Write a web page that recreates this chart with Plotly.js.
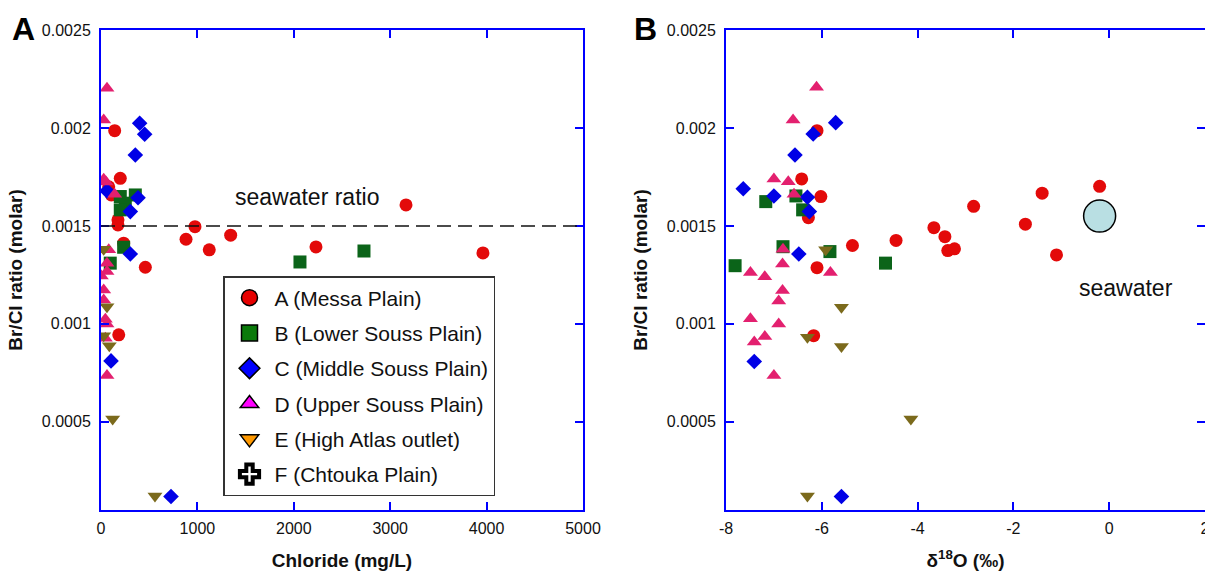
<!DOCTYPE html>
<html>
<head>
<meta charset="utf-8">
<script src="https://cdn.plot.ly/plotly-3.0.1.min.js"></script>
<style>
  html, body { margin: 0; padding: 0; background: #fff; }
  #chart { width: 1205px; height: 571px; }
</style>
</head>
<body>
<div id="chart"></div>
<script>
// Groundwater groups
const groupNames = [
  'A (Messa Plain)',
  'B (Lower Souss Plain)',
  'C (Middle Souss Plain)',
  'D (Upper Souss Plain)',
  'E (High Atlas outlet)',
  'F (Chtouka Plain)'
];

// ---- Panel A: chloride (mg/L) vs Br/Cl molar ratio ----
const clMessa   = [142, 200, 80, 107, 176, 176, 975, 882, 1123, 1345, 235, 460, 184, 3164, 2230, 3962];
const brclMessaA = [0.001986, 0.001743, 0.00170, 0.001658, 0.001531, 0.001505, 0.001496, 0.001432, 0.001378, 0.001453, 0.001412, 0.001289, 0.000944, 0.001607, 0.001393, 0.001362];

const clLower    = [200, 356, 252, 200, 235, 96, 2064, 2728];
const brclLowerA = [0.00165, 0.001658, 0.001616, 0.001582, 0.001391, 0.00131, 0.001316, 0.001372];

const clMiddle    = [401, 453, 356, 62, 384, 304, 304, 104, 726];
const brclMiddleA = [0.002024, 0.001968, 0.001862, 0.001679, 0.001644, 0.001573, 0.001357, 0.000811, 0.000119];

const clUpper    = [62, 28, 28, 52, 142, 80, 62, 3, 62, 28, 28, 45, 62, 45, 62];
const brclUpperA = [0.002203, 0.002041, 0.001738, 0.001724, 0.001662, 0.001378, 0.00131, 0.001245, 0.001267, 0.001173, 0.001122, 0.001024, 0.001, 0.000927, 0.000736];

const clAtlas    = [28, 62, 28, 86, 121, 560];
const brclAtlasA = [0.001381, 0.001088, 0.000939, 0.000888, 0.000515, 0.000122];

const seawaterRatioLine = 0.0015;

// ---- Panel B: δ18O (‰) vs Br/Cl molar ratio ----
const d18oMessa  = [-6.10, -6.42, -6.02, -6.28, -5.36, -6.10, -6.17, -4.45, -3.66, -3.43, -3.37, -3.23, -2.83, -1.75, -1.40, -1.10, -0.20];
const brclMessaB = [0.001986, 0.00174, 0.00165, 0.001542, 0.0014, 0.001287, 0.00094, 0.001426, 0.001491, 0.001445, 0.001374, 0.001383, 0.0016, 0.001509, 0.001667, 0.001352, 0.001702];

const d18oLower  = [-6.54, -7.17, -6.40, -6.81, -5.83, -7.81, -4.67];
const brclLowerB = [0.001653, 0.001624, 0.001582, 0.001394, 0.001369, 0.001297, 0.00131];

const d18oMiddle  = [-5.71, -6.18, -6.56, -7.64, -7.00, -6.30, -6.26, -6.48, -7.41, -5.59];
const brclMiddleB = [0.002027, 0.001969, 0.001862, 0.00169, 0.001653, 0.001646, 0.001573, 0.001357, 0.000808, 0.000119];

const d18oUpper  = [-6.11, -6.60, -7.00, -6.70, -6.58, -6.81, -6.82, -7.49, -7.19, -5.82, -6.82, -6.90, -7.49, -6.90, -7.19, -7.41, -7.00];
const brclUpperB = [0.002208, 0.002041, 0.00174, 0.001726, 0.001662, 0.001381, 0.001306, 0.001262, 0.001241, 0.001262, 0.00117, 0.001117, 0.001026, 0.001, 0.000935, 0.000907, 0.000736];

const d18oAtlas  = [-5.92, -5.59, -6.30, -5.59, -4.14, -6.30];
const brclAtlasB = [0.001378, 0.001085, 0.000932, 0.000884, 0.000515, 0.000122];

const seawaterD18O = [-0.2];
const seawaterBrCl = [0.00155];

// δ18O tick labels (plain hyphen minus)
const d18oTicks = [-8, -6, -4, -2, 0, 2];
const d18oTickText = ['-8', '-6', '-4', '-2', '0', '2'];

// ---- Styling ----
const FONT = 'Liberation Sans, Arial, Helvetica, sans-serif';
const markerStyles = [
  { symbol: 'circle',        size: 13, color: '#e30a0a' },
  { symbol: 'square',        size: 13, color: '#0b6419' },
  { symbol: 'diamond',       size: 12, color: '#0000e6' },
  { symbol: 'triangle-up',   size: 13, color: '#e3206f' },
  { symbol: 'triangle-down', size: 13, color: '#7b6a1c' }
];
const legendStyles = [
  { symbol: 'circle',        color: '#e60000', line: { color: '#000', width: 1.5 } },
  { symbol: 'square',        color: '#0a7a0a', line: { color: '#000', width: 1.5 } },
  { symbol: 'diamond',       color: '#0000ff', line: { color: '#000', width: 1.5 } },
  { symbol: 'triangle-up',   color: '#ff00ff', line: { color: '#000', width: 1.5 } },
  { symbol: 'triangle-down', color: '#ff9900', line: { color: '#000', width: 1.5 } },
  { symbol: 'cross-open',    color: '#000',    line: { color: '#000', width: 4 } }
];

const panelA = [[clMessa, brclMessaA], [clLower, brclLowerA], [clMiddle, brclMiddleA], [clUpper, brclUpperA], [clAtlas, brclAtlasA]];
const panelB = [[d18oMessa, brclMessaB], [d18oLower, brclLowerB], [d18oMiddle, brclMiddleB], [d18oUpper, brclUpperB], [d18oAtlas, brclAtlasB]];

const traces = [];
function addSeries(series, xa, ya) {
  series.forEach(([xs, ys], i) => {
    const s = markerStyles[i];
    traces.push({
      type: 'scatter', mode: 'markers', x: xs, y: ys, xaxis: xa, yaxis: ya,
      showlegend: false, hoverinfo: 'x+y',
      marker: { symbol: s.symbol, size: s.size, color: s.color, line: { width: 0 } }
    });
  });
}
addSeries(panelA, 'x', 'y');
addSeries(panelB, 'x2', 'y2');

// seawater reference point
traces.push({
  type: 'scatter', mode: 'markers', x: seawaterD18O, y: seawaterBrCl, xaxis: 'x2', yaxis: 'y2',
  showlegend: false,
  marker: { symbol: 'circle', size: 32, color: '#b9dfe3', line: { color: '#000', width: 1.5 } }
});

// legend entries (key only)
groupNames.forEach((name, i) => {
  const s = legendStyles[i];
  traces.push({
    type: 'scatter', mode: 'markers', x: [null], y: [null], xaxis: 'x', yaxis: 'y',
    name: name, legendgroup: 'g' + i, showlegend: true,
    marker: { symbol: s.symbol, size: 16, color: s.color, line: s.line }
  });
});

const W = 1205, H = 571;
const axisBase = {
  showline: true, linecolor: '#0000ff', linewidth: 2, mirror: 'ticks',
  ticks: 'inside', ticklen: 8, tickwidth: 2, tickcolor: '#0000ff',
  showgrid: false, zeroline: false, automargin: false,
  ticklabeloverflow: 'allow',
  tickfont: { family: FONT, size: 16, color: '#111' }
};
const titleFont = { family: FONT, size: 19, color: '#111', weight: 'bold' };
const yDomain = [1 - 510 / H, 1 - 30 / H];

const layout = {
  width: W, height: H,
  margin: { l: 0, r: 0, t: 0, b: 0 },
  paper_bgcolor: '#fff', plot_bgcolor: '#fff',
  font: { family: FONT, color: '#111' },
  showlegend: true,
  xaxis: Object.assign({}, axisBase, {
    domain: [101 / W, 583 / W], range: [0, 5000], dtick: 1000, tick0: 0, anchor: 'y',
    ticklabelstandoff: 3,
    title: { text: 'Chloride (mg/L)', font: titleFont, standoff: 20 }
  }),
  yaxis: Object.assign({}, axisBase, {
    domain: yDomain, range: [0.00005, 0.0025], dtick: 0.0005, tick0: 0, anchor: 'x',
    exponentformat: 'none', ticklabelstandoff: 5,
    title: { text: 'Br/Cl ratio (molar)', font: titleFont, standoff: 14 }
  }),
  xaxis2: Object.assign({}, axisBase, {
    domain: [726 / W, 1], range: [-8, 2], anchor: 'y2',
    tickmode: 'array', tickvals: d18oTicks, ticktext: d18oTickText,
    ticklabelstandoff: 3,
    title: { text: 'δ<sup>18</sup>O (‰)', font: titleFont, standoff: 18 }
  }),
  yaxis2: Object.assign({}, axisBase, {
    domain: yDomain, range: [0.00005, 0.0025], dtick: 0.0005, tick0: 0, anchor: 'x2',
    exponentformat: 'none', ticklabelstandoff: 5,
    title: { text: 'Br/Cl ratio (molar)', font: titleFont, standoff: 14 }
  }),
  shapes: [{
    type: 'line', xref: 'x', yref: 'y', x0: 0, x1: 5000, y0: seawaterRatioLine, y1: seawaterRatioLine,
    line: { color: '#111', width: 1.5, dash: '14px,7px' }
  }],
  annotations: [
    { text: 'seawater ratio', xref: 'x', yref: 'y', x: 2137, y: 0.001648, showarrow: false,
      xanchor: 'center', yanchor: 'middle', font: { family: FONT, size: 23, color: '#111' } },
    { text: 'seawater', xref: 'x2', yref: 'y2', x: 0.36, y: 0.001181, showarrow: false,
      xanchor: 'center', yanchor: 'middle', font: { family: FONT, size: 23, color: '#111' } },
    { text: 'A', xref: 'paper', yref: 'paper', x: 23.5 / W, y: 1 - 29 / H, showarrow: false,
      xanchor: 'center', yanchor: 'middle', font: { family: FONT, size: 32, color: '#000', weight: 'bold' } },
    { text: 'B', xref: 'paper', yref: 'paper', x: 645.7 / W, y: 1 - 29 / H, showarrow: false,
      xanchor: 'center', yanchor: 'middle', font: { family: FONT, size: 32, color: '#000', weight: 'bold' } }
  ],
  legend: {
    x: 223 / W, y: 1 - 276 / H, xanchor: 'left', yanchor: 'top',
    bgcolor: '#fff', bordercolor: '#333', borderwidth: 1.5,
    font: { family: FONT, size: 21, color: '#111' },
    tracegroupgap: 5, itemsizing: 'trace', itemwidth: 40
  }
};

Plotly.newPlot('chart', traces, layout, { displayModeBar: false, staticPlot: true });
</script>
</body>
</html>
